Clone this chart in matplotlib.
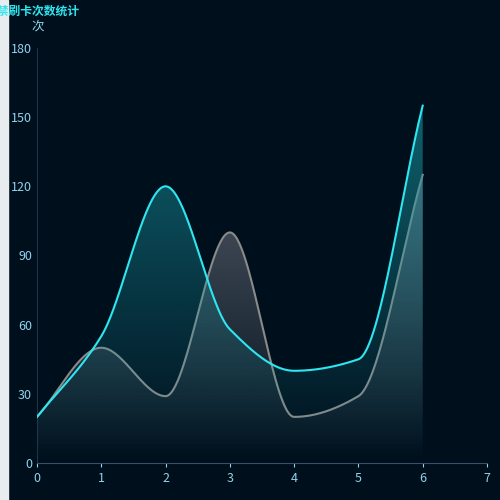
import numpy as np
import matplotlib.pyplot as plt
from matplotlib.path import Path
from matplotlib.patches import PathPatch

plt.rcParams['font.family'] = ['Noto Sans CJK SC', 'DejaVu Sans']

x_vals = [0, 1, 2, 3, 4, 5, 6]
cyan_vals = [20, 55, 120, 58, 40, 45, 155]
gray_vals = [20, 50, 29, 100, 20, 29, 125]
y_ticks = [0, 30, 60, 90, 120, 150, 180]
x_ticks = [0, 1, 2, 3, 4, 5, 6, 7]

BG = '#000f1c'


def smooth(xs, ys, n=60):
    # monotone cubic (Fritsch-Carlson), no overshoot
    xs = np.asarray(xs, float)
    ys = np.asarray(ys, float)
    h = np.diff(xs)
    d = np.diff(ys) / h
    m = np.zeros_like(ys)
    m[0], m[-1] = d[0], d[-1]
    for i in range(1, len(ys) - 1):
        if d[i - 1] * d[i] <= 0:
            m[i] = 0
        else:
            m[i] = 2 / (1 / d[i - 1] + 1 / d[i])
    ox, oy = [], []
    for i in range(len(xs) - 1):
        t = np.linspace(0, 1, n)
        h00 = 2 * t**3 - 3 * t**2 + 1
        h10 = t**3 - 2 * t**2 + t
        h01 = -2 * t**3 + 3 * t**2
        h11 = t**3 - t**2
        ox.extend(xs[i] + t * h[i])
        oy.extend(h00 * ys[i] + h10 * h[i] * m[i] + h01 * ys[i + 1] + h11 * h[i] * m[i + 1])
    return np.array(ox), np.array(oy)


fig = plt.figure(figsize=(5, 5), dpi=100, facecolor=BG)
ax = fig.add_axes([0.074, 0.074, 0.9, 0.83], facecolor=BG)
ax.set_xlim(0, 7)
ax.set_ylim(0, 180)


def area(xs, ys, rgb, top_alpha, line_color, z):
    sx, sy = smooth(xs, ys)
    grad = np.zeros((256, 1, 4))
    grad[:, 0, :3] = rgb
    grad[:, 0, 3] = np.linspace(top_alpha, 0.0, 256)
    im = ax.imshow(grad, extent=[0, 6, 0, max(ys)], aspect='auto', origin='upper', zorder=z)
    verts = list(zip(sx, sy)) + [(sx[-1], 0), (sx[0], 0)]
    clip = PathPatch(Path(verts), transform=ax.transData, facecolor='none', edgecolor='none')
    ax.add_patch(clip)
    im.set_clip_path(clip)
    ax.plot(sx, sy, color=line_color, lw=1.5, zorder=z + 1)


area(x_vals, gray_vals, (0.55, 0.55, 0.6), 0.55, '#8a8a8a', 2)
area(x_vals, cyan_vals, (0.1, 0.6, 0.65), 0.6, '#2ee6f0', 3)

ax.set_xticks(x_ticks)
ax.set_yticks(y_ticks)
ax.tick_params(colors='#8fd4ee', labelsize=9, length=3)
ax.tick_params(axis='y', length=0)
for s in ['top', 'right']:
    ax.spines[s].set_visible(False)
ax.spines['left'].set_color('#1e3346')
ax.spines['bottom'].set_color('#3a5066')

fig.text(0.062, 0.94, '次', color='#8fd4ee', fontsize=9)
fig.text(-0.03, 0.978, '门禁刷卡次数统计', color='#2ee6f0', fontsize=8.5, fontweight='bold', va='center')
fig.patches.append(plt.Rectangle((0, 0), 0.016, 1, transform=fig.transFigure, color='#e8ecef', zorder=-1))

fig.savefig('out.png', dpi=100, facecolor=BG)
